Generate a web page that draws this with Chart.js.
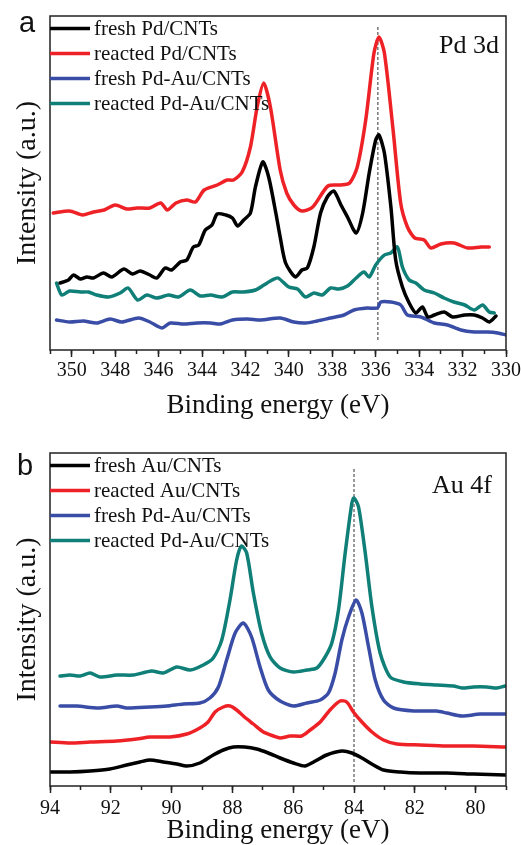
<!DOCTYPE html>
<html>
<head>
<meta charset="utf-8">
<script src="https://cdn.jsdelivr.net/npm/chart.js@4.4.1/dist/chart.umd.min.js"></script>
<style>
    html, body { margin: 0; padding: 0; background: #fff; }
    canvas { display: block; }
</style>
</head>
<body>
<canvas id="pd3d" width="521" height="422"></canvas>
<canvas id="au4f" width="521" height="423"></canvas>
<script>
// Pd 3d region (binding energy, eV / intensity, a.u.)
var pdFreshPdBE = [350.54, 350.15, 349.92, 349.6, 349.3, 349.0, 348.54, 348.15, 347.6, 347.2, 346.85, 346.4, 346.08, 345.7, 345.4, 345.0, 344.7, 344.4, 344.15, 343.85, 343.54, 343.3, 342.9, 342.6, 342.36, 342.08, 341.77, 341.54, 341.2, 340.93, 340.6, 340.4, 340.15, 339.7, 339.4, 339.15, 338.85, 338.54, 338.23, 337.93, 337.6, 337.3, 336.9, 336.6, 336.3, 336.0, 335.85, 335.6, 335.3, 335.08, 334.77, 334.46, 334.15, 333.85, 333.6, 333.3, 332.85, 332.46, 331.9, 331.46, 331.08, 330.77, 330.46];
var pdFreshPdInt = [67, 70, 75, 71, 73, 72, 77, 73, 81, 76, 79, 75, 72, 82, 80, 88, 90, 103, 105, 120, 125, 136, 135, 132, 124, 130, 137, 163, 188, 173, 137, 113, 87, 73, 80, 82, 103, 137, 153, 159, 145, 133, 117, 137, 177, 210, 215, 197, 143, 90, 63, 47, 37, 43, 33, 35, 38, 33, 35, 35, 32, 28, 34];

var pdReactedPdBE = [350.85, 350.1, 349.5, 349.0, 348.5, 348.0, 347.46, 347.0, 346.4, 345.9, 345.6, 345.2, 344.7, 344.3, 343.9, 343.3, 342.85, 342.55, 342.15, 341.77, 341.46, 341.16, 340.85, 340.4, 340.1, 339.77, 339.4, 338.9, 338.2, 337.6, 337.2, 336.85, 336.46, 336.08, 335.85, 335.6, 335.2, 334.85, 334.54, 334.2, 333.77, 333.46, 333.0, 332.4, 331.77, 331.15, 330.77];
var pdReactedPdInt = [137, 139, 135, 138, 140, 145, 141, 142, 142, 147, 140, 147, 150, 148, 160, 165, 170, 170, 178, 203, 243, 267, 243, 180, 157, 145, 139, 143, 164, 165, 167, 183, 230, 297, 313, 297, 220, 147, 123, 112, 110, 102, 106, 107, 102, 103, 103];

var pdFreshPdAuBE = [350.7, 350.1, 349.46, 348.85, 348.23, 347.7, 346.92, 346.4, 345.85, 345.46, 344.85, 344.23, 343.6, 343.15, 342.6, 341.92, 341.3, 340.4, 339.77, 339.23, 338.7, 338.08, 337.46, 337.0, 336.4, 335.92, 335.77, 335.3, 334.85, 334.54, 333.92, 333.3, 332.7, 332.08, 331.46, 330.85, 330.38, 330.0];
var pdFreshPdAuInt = [30, 28, 29, 27, 31, 28, 32, 28, 22, 27, 26, 27, 27, 26, 30, 31, 30, 32, 28, 27, 29, 32, 35, 40, 42, 42, 48, 48, 45, 35, 33, 27, 25, 20, 18, 18, 17, 15];

var pdReactedPdAuBE = [350.7, 350.46, 350.1, 349.6, 349.23, 348.85, 348.3, 347.77, 347.4, 346.97, 346.54, 346.08, 345.54, 345.08, 344.54, 344.08, 343.6, 343.08, 342.6, 342.1, 341.54, 341.15, 340.77, 340.5, 340.0, 339.6, 339.23, 338.85, 338.46, 338.08, 337.7, 337.3, 336.9, 336.54, 336.3, 336.0, 335.6, 335.3, 335.0, 334.77, 334.46, 334.15, 333.77, 333.3, 332.85, 332.4, 331.9, 331.46, 331.08, 330.77, 330.54];
var pdReactedPdAuInt = [67, 55, 59, 58, 58, 55, 53, 57, 62, 50, 55, 52, 55, 53, 60, 54, 55, 53, 58, 58, 60, 65, 70, 72, 63, 61, 53, 57, 55, 62, 61, 64, 72, 78, 73, 85, 95, 97, 103, 83, 70, 67, 60, 57, 52, 48, 45, 40, 45, 38, 37];

var pdLabels = ['fresh Pd/CNTs', 'reacted Pd/CNTs', 'fresh Pd-Au/CNTs', 'reacted Pd-Au/CNTs'];
var pdRefLine = 335.9;

// Au 4f region
var auFreshAuBE = [94.0, 93.34, 92.68, 92.03, 91.48, 91.04, 90.71, 90.27, 89.83, 89.5, 89.07, 88.63, 88.3, 87.97, 87.59, 87.2, 86.82, 86.43, 85.99, 85.61, 85.33, 84.9, 84.4, 84.07, 83.74, 83.36, 83.03, 82.48, 81.82, 80.95, 80.07, 79.03];
var auFreshAuInt = [14, 14, 15, 17, 21, 24, 26, 24, 22, 20, 23, 31, 36, 39, 39, 37, 33, 28, 23, 20, 24, 31, 35, 33, 28, 21, 16, 14, 13, 13, 12, 11];

var auReactedAuBE = [94.0, 93.34, 92.68, 91.8, 91.15, 90.71, 90.05, 89.5, 89.07, 88.8, 88.57, 88.3, 88.08, 87.86, 87.64, 87.31, 86.98, 86.65, 86.43, 86.1, 85.72, 85.44, 85.11, 84.79, 84.46, 84.24, 84.02, 83.74, 83.41, 83.03, 82.59, 81.82, 80.95, 80.07, 79.03];
var auReactedAuInt = [44, 43, 44, 45, 47, 49, 49, 52, 58, 64, 74, 79, 80, 76, 70, 62, 54, 50, 48, 50, 50, 56, 64, 76, 85, 84, 74, 64, 54, 46, 42, 41, 40, 40, 39];

var auFreshPdAuBE = [93.67, 93.12, 92.41, 91.8, 91.48, 90.71, 90.16, 89.61, 89.07, 88.74, 88.46, 88.19, 87.91, 87.64, 87.37, 87.09, 86.82, 86.43, 85.99, 85.55, 85.11, 84.84, 84.62, 84.4, 84.18, 83.93, 83.74, 83.52, 83.3, 83.03, 82.7, 82.04, 81.28, 80.95, 80.45, 79.85, 79.03];
var auFreshPdAuInt = [80, 80, 78, 80, 78, 79, 80, 82, 83, 88, 99, 126, 153, 163, 149, 119, 96, 85, 80, 83, 86, 93, 113, 146, 169, 186, 173, 139, 106, 86, 78, 75, 75, 73, 70, 72, 72];

var auReactedPdAuBE = [93.67, 93.34, 93.01, 92.68, 92.36, 91.8, 91.26, 90.66, 90.27, 89.83, 89.39, 88.96, 88.63, 88.35, 88.08, 87.86, 87.7, 87.53, 87.31, 87.04, 86.76, 86.43, 85.99, 85.55, 85.22, 84.95, 84.73, 84.51, 84.29, 84.07, 84.0, 83.85, 83.63, 83.41, 83.14, 82.81, 82.37, 81.82, 81.28, 80.73, 80.45, 80.07, 79.63, 79.3, 79.03];
var auReactedPdAuInt = [110, 111, 110, 113, 109, 111, 111, 115, 113, 119, 116, 121, 128, 146, 186, 226, 240, 233, 193, 153, 129, 118, 114, 116, 118, 129, 143, 176, 233, 283, 288, 279, 233, 179, 133, 109, 104, 102, 101, 100, 98, 99, 99, 98, 100];

var auLabels = ['fresh Au/CNTs', 'reacted Au/CNTs', 'fresh Pd-Au/CNTs', 'reacted Pd-Au/CNTs'];
var auRefLine = 84.0;

var seriesColors = ['#000000', '#ee2226', '#3a4da6', '#0f7f78'];
var SERIF = '"Liberation Serif", "Times New Roman", serif';
var SANS = '"Liberation Sans", Arial, sans-serif';

function zip(be, y) {
    return be.map(function (e, i) { return {x: e, y: y[i]}; });
}

// frame, inline key, panel letter and region tag
var panelDecor = {
    id: 'panelDecor',
    afterDatasetsDraw: function (chart, args, opts) {
        var ctx = chart.ctx;
        var a = chart.chartArea;
        ctx.save();
        ctx.strokeStyle = '#222';
        ctx.lineWidth = 1.5;
        ctx.strokeRect(a.left, a.top, a.right - a.left, a.bottom - a.top);

        ctx.font = '21px ' + SERIF;
        ctx.textAlign = 'left';
        ctx.textBaseline = 'alphabetic';
        opts.keys.forEach(function (label, i) {
            var y = a.top + opts.keyTop + i * 25;
            ctx.strokeStyle = seriesColors[i];
            ctx.lineWidth = 3.5;
            ctx.beginPath();
            ctx.moveTo(a.left, y);
            ctx.lineTo(a.left + 40, y);
            ctx.stroke();
            ctx.fillStyle = '#111';
            ctx.fillText(label, a.left + 44, y + 6);
        });

        ctx.font = '26px ' + SERIF;
        ctx.textAlign = 'right';
        ctx.fillText(opts.tag, opts.tagX, opts.tagY);

        ctx.font = '29px ' + SANS;
        ctx.textAlign = 'left';
        ctx.fillText(opts.letter, opts.letterX, opts.letterY);
        ctx.restore();
    }
};

function makePanel(canvasId, p) {
    var datasets = p.series.map(function (s, i) {
        return {
            label: p.keys[i],
            data: s,
            borderColor: seriesColors[i],
            borderWidth: 3.5,
            pointRadius: 0,
            tension: 0.25,
            fill: false,
            borderJoinStyle: 'round',
            borderCapStyle: 'round'
        };
    });
    // reference position (dotted marker)
    datasets.push({
        label: '',
        data: [{x: p.ref, y: p.refTop}, {x: p.ref, y: p.refBottom}],
        borderColor: '#333',
        borderWidth: 1,
        borderDash: [3, 2],
        pointRadius: 0,
        fill: false
    });

    return new Chart(document.getElementById(canvasId), {
        type: 'line',
        data: {datasets: datasets},
        options: {
            responsive: false,
            animation: false,
            devicePixelRatio: 1,
            layout: {padding: {top: p.padTop, right: 15, bottom: 0, left: 0}},
            plugins: {
                legend: {display: false},
                tooltip: {enabled: false},
                panelDecor: {
                    keys: p.keys, keyTop: 12.5, tag: p.tag, tagX: p.tagX, tagY: p.tagY,
                    letter: p.letter, letterX: p.letterX, letterY: p.letterY
                }
            },
            scales: {
                xm: {
                    type: 'linear', position: 'bottom', weight: 0,
                    min: p.xMin, max: p.xMax, reverse: true,
                    afterFit: function (s) { s.height = 0; s.paddingLeft = 0; s.paddingRight = 0; },
                    border: {display: false},
                    grid: {drawOnChartArea: false, tickLength: 4, tickWidth: 1.5, tickColor: '#222'},
                    ticks: {display: false, stepSize: 1, includeBounds: false}
                },
                x: {
                    type: 'linear', position: 'bottom', weight: 1,
                    min: p.xMin, max: p.xMax, reverse: true,
                    afterFit: function (s) { s.height = p.axisH; s.paddingLeft = 0; s.paddingRight = 0; },
                    border: {display: false},
                    grid: {drawOnChartArea: false, tickLength: 7, tickWidth: 1.5, tickColor: '#222'},
                    ticks: {
                        stepSize: 2, includeBounds: false, autoSkip: false, maxRotation: 0,
                        padding: p.tickPad, color: '#111', font: {family: SERIF, size: 20}
                    },
                    title: {
                        display: true, text: 'Binding energy (eV)', color: '#111',
                        font: {family: SERIF, size: 27}, padding: {top: 0, bottom: p.titlePad}
                    }
                },
                y: {
                    min: 0, max: p.yMax,
                    afterFit: function (s) { s.width = 50; },
                    border: {display: false},
                    grid: {display: false},
                    ticks: {display: false},
                    title: {
                        display: true, text: 'Intensity (a.u.)', color: '#111',
                        font: {family: SERIF, size: 28}, padding: {top: 11, bottom: 0}
                    }
                }
            }
        },
        plugins: [panelDecor]
    });
}

makePanel('pd3d', {
    series: [zip(pdFreshPdBE, pdFreshPdInt), zip(pdReactedPdBE, pdReactedPdInt),
             zip(pdFreshPdAuBE, pdFreshPdAuInt), zip(pdReactedPdAuBE, pdReactedPdAuInt)],
    keys: pdLabels, ref: pdRefLine, refTop: 323, refBottom: 10,
    xMin: 330, xMax: 351, yMax: 334,
    padTop: 16, axisH: 72, tickPad: 2, titlePad: 0,
    tag: 'Pd 3d', tagX: 499, tagY: 53,
    letter: 'a', letterX: 19, letterY: 31.5
});

makePanel('au4f', {
    series: [zip(auFreshAuBE, auFreshAuInt), zip(auReactedAuBE, auReactedAuInt),
             zip(auFreshPdAuBE, auFreshPdAuInt), zip(auReactedPdAuBE, auReactedPdAuInt)],
    keys: auLabels, ref: auRefLine, refTop: 317, refBottom: 3,
    xMin: 79, xMax: 94, yMax: 333,
    padTop: 31, axisH: 59, tickPad: 4, titlePad: -2,
    tag: 'Au 4f', tagX: 492, tagY: 71,
    letter: 'b', letterX: 17, letterY: 53
});
</script>
</body>
</html>
